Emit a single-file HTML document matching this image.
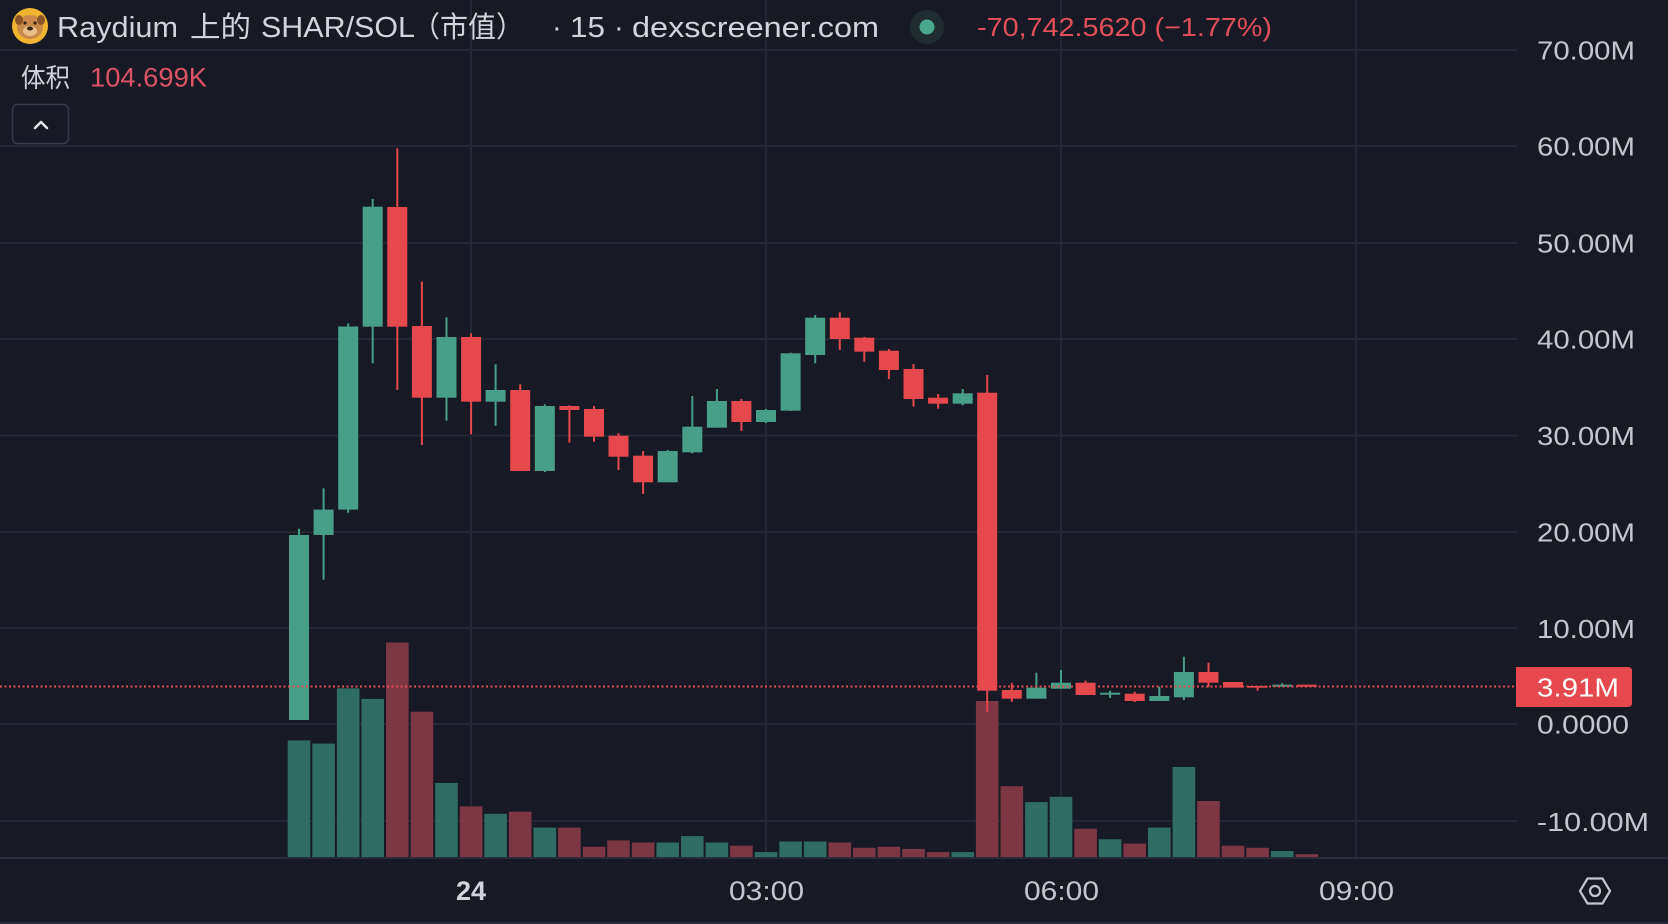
<!DOCTYPE html>
<html>
<head>
<meta charset="utf-8">
<style>
  html,body{margin:0;padding:0;background:#171a25;}
  body{width:1668px;height:924px;overflow:hidden;}
  svg{display:block;}
  text{font-family:"Liberation Sans","Noto Sans CJK SC",sans-serif;}
</style>
</head>
<body>
<svg width="1668" height="924" viewBox="0 0 1668 924" xmlns="http://www.w3.org/2000/svg">
  <rect x="0" y="0" width="1668" height="924" fill="#171a25"/>

  <!-- horizontal grid -->
  <g stroke="#242734" stroke-width="2">
    <line x1="0" y1="50" x2="1517" y2="50"/>
    <line x1="0" y1="146" x2="1517" y2="146"/>
    <line x1="0" y1="243" x2="1517" y2="243"/>
    <line x1="0" y1="339" x2="1517" y2="339"/>
    <line x1="0" y1="435.5" x2="1517" y2="435.5"/>
    <line x1="0" y1="532" x2="1517" y2="532"/>
    <line x1="0" y1="628" x2="1517" y2="628"/>
    <line x1="0" y1="724" x2="1517" y2="724"/>
    <line x1="0" y1="821" x2="1517" y2="821"/>
  </g>
  <!-- vertical grid -->
  <g stroke="#242734" stroke-width="2">
    <line x1="471" y1="0" x2="471" y2="858"/>
    <line x1="766" y1="0" x2="766" y2="858"/>
    <line x1="1061" y1="0" x2="1061" y2="858"/>
    <line x1="1356" y1="0" x2="1356" y2="858"/>
  </g>

  <!-- volume -->
  <g>
    <rect x="287.7" y="740.4" width="22.6" height="116.6" fill="#2f6c61"/>
    <rect x="312.3" y="743.6" width="22.6" height="113.4" fill="#2f6c61"/>
    <rect x="336.9" y="688.3" width="22.6" height="168.7" fill="#2f6c61"/>
    <rect x="361.4" y="698.9" width="22.6" height="158.1" fill="#2f6c61"/>
    <rect x="386.0" y="642.5" width="22.6" height="214.5" fill="#7d3744"/>
    <rect x="410.6" y="711.7" width="22.6" height="145.3" fill="#7d3744"/>
    <rect x="435.2" y="783" width="22.6" height="74" fill="#2f6c61"/>
    <rect x="459.8" y="806.4" width="22.6" height="50.6" fill="#7d3744"/>
    <rect x="484.3" y="813.8" width="22.6" height="43.2" fill="#2f6c61"/>
    <rect x="508.9" y="811.7" width="22.6" height="45.3" fill="#7d3744"/>
    <rect x="533.5" y="827.6" width="22.6" height="29.4" fill="#2f6c61"/>
    <rect x="558.1" y="827.6" width="22.6" height="29.4" fill="#7d3744"/>
    <rect x="582.7" y="846.8" width="22.6" height="10.2" fill="#7d3744"/>
    <rect x="607.2" y="840.4" width="22.6" height="16.6" fill="#7d3744"/>
    <rect x="631.8" y="842.5" width="22.6" height="14.5" fill="#7d3744"/>
    <rect x="656.4" y="842.5" width="22.6" height="14.5" fill="#2f6c61"/>
    <rect x="681.0" y="836.1" width="22.6" height="20.9" fill="#2f6c61"/>
    <rect x="705.6" y="842.5" width="22.6" height="14.5" fill="#2f6c61"/>
    <rect x="730.1" y="845.7" width="22.6" height="11.3" fill="#7d3744"/>
    <rect x="754.7" y="852.1" width="22.6" height="4.9" fill="#2f6c61"/>
    <rect x="779.3" y="841.5" width="22.6" height="15.5" fill="#2f6c61"/>
    <rect x="803.9" y="841.5" width="22.6" height="15.5" fill="#2f6c61"/>
    <rect x="828.5" y="842.5" width="22.6" height="14.5" fill="#7d3744"/>
    <rect x="853.0" y="847.8" width="22.6" height="9.2" fill="#7d3744"/>
    <rect x="877.6" y="846.8" width="22.6" height="10.2" fill="#7d3744"/>
    <rect x="902.2" y="848.9" width="22.6" height="8.1" fill="#7d3744"/>
    <rect x="926.8" y="852.1" width="22.6" height="4.9" fill="#7d3744"/>
    <rect x="951.4" y="852.1" width="22.6" height="4.9" fill="#2f6c61"/>
    <rect x="975.9" y="701" width="22.6" height="156" fill="#7d3744"/>
    <rect x="1000.5" y="786.2" width="22.6" height="70.8" fill="#7d3744"/>
    <rect x="1025.1" y="802.1" width="22.6" height="54.9" fill="#2f6c61"/>
    <rect x="1049.7" y="796.8" width="22.6" height="60.2" fill="#2f6c61"/>
    <rect x="1074.3" y="828.7" width="22.6" height="28.3" fill="#7d3744"/>
    <rect x="1098.8" y="839.3" width="22.6" height="17.7" fill="#2f6c61"/>
    <rect x="1123.4" y="843.6" width="22.6" height="13.4" fill="#7d3744"/>
    <rect x="1148.0" y="827.6" width="22.6" height="29.4" fill="#2f6c61"/>
    <rect x="1172.6" y="767" width="22.6" height="90" fill="#2f6c61"/>
    <rect x="1197.2" y="801" width="22.6" height="56" fill="#7d3744"/>
    <rect x="1221.7" y="845.7" width="22.6" height="11.3" fill="#7d3744"/>
    <rect x="1246.3" y="847.8" width="22.6" height="9.2" fill="#7d3744"/>
    <rect x="1270.9" y="851" width="22.6" height="6" fill="#2f6c61"/>
    <rect x="1295.5" y="854.2" width="22.6" height="2.8" fill="#7d3744"/>
  </g>

  <!-- candles green -->
  <g fill="#489f87">
    <rect x="298" y="528.7" width="2" height="191.3"/><rect x="289" y="535" width="20" height="185"/>
    <rect x="322.6" y="488.3" width="2" height="91.5"/><rect x="313.6" y="509.6" width="20" height="25.4"/>
    <rect x="347.2" y="323.4" width="2" height="189.3"/><rect x="338.2" y="326.5" width="20" height="183.1"/>
    <rect x="371.7" y="199" width="2" height="164.3"/><rect x="362.7" y="206.7" width="20" height="120"/>
    <rect x="445.5" y="317.3" width="2" height="103.4"/><rect x="436.5" y="337" width="20" height="60.7"/>
    <rect x="494.6" y="364.3" width="2" height="61.4"/><rect x="485.6" y="390" width="20" height="11.7"/>
    <rect x="543.8" y="404.3" width="2" height="67.7"/><rect x="534.8" y="406" width="20" height="65"/>
    <rect x="666.7" y="450" width="2" height="32.3"/><rect x="657.7" y="451" width="20" height="31.3"/>
    <rect x="691.3" y="396" width="2" height="57.3"/><rect x="682.3" y="426.7" width="20" height="25.6"/>
    <rect x="715.9" y="389" width="2" height="38.7"/><rect x="706.9" y="401" width="20" height="26.7"/>
    <rect x="765" y="409" width="2" height="14"/><rect x="756" y="410" width="20" height="12"/>
    <rect x="789.6" y="352.7" width="2" height="58.3"/><rect x="780.6" y="353.3" width="20" height="57.4"/>
    <rect x="814.2" y="315" width="2" height="48.3"/><rect x="805.2" y="317.7" width="20" height="37.3"/>
    <rect x="961.7" y="389" width="2" height="16.3"/><rect x="952.7" y="393.3" width="20" height="10.4"/>
    <rect x="1035.4" y="672.7" width="2" height="26"/><rect x="1026.4" y="687.7" width="20" height="11"/>
    <rect x="1060" y="670" width="2" height="18.7"/><rect x="1051" y="682.7" width="20" height="6"/>
    <rect x="1109.1" y="690.7" width="2" height="7.3"/><rect x="1100.1" y="692.7" width="20" height="2"/>
    <rect x="1158.3" y="686.7" width="2" height="14.3"/><rect x="1149.3" y="696" width="20" height="5"/>
    <rect x="1182.9" y="656.7" width="2" height="43.3"/><rect x="1173.9" y="672" width="20" height="25.3"/>
    <rect x="1281.2" y="683.3" width="2" height="3.4"/><rect x="1272.2" y="684.7" width="20" height="2"/>
  </g>
  <!-- candles red -->
  <g fill="#e5484d">
    <rect x="396.3" y="148.3" width="2" height="241.7"/><rect x="387.3" y="207" width="20" height="119.7"/>
    <rect x="420.9" y="281.7" width="2" height="163.3"/><rect x="411.9" y="326" width="20" height="71.7"/>
    <rect x="470.1" y="333.3" width="2" height="101"/><rect x="461.1" y="337" width="20" height="64.7"/>
    <rect x="519.2" y="384.3" width="2" height="86.7"/><rect x="510.2" y="390" width="20" height="81"/>
    <rect x="568.4" y="405.3" width="2" height="37.4"/><rect x="559.4" y="406" width="20" height="4"/>
    <rect x="593" y="406" width="2" height="35.7"/><rect x="584" y="409" width="20" height="27.7"/>
    <rect x="617.5" y="433.3" width="2" height="36.7"/><rect x="608.5" y="435.7" width="20" height="21"/>
    <rect x="642.1" y="451" width="2" height="43"/><rect x="633.1" y="455.7" width="20" height="26.6"/>
    <rect x="740.4" y="399" width="2" height="32"/><rect x="731.4" y="401" width="20" height="21"/>
    <rect x="838.8" y="312.3" width="2" height="37.7"/><rect x="829.8" y="317.7" width="20" height="21.3"/>
    <rect x="863.3" y="337" width="2" height="24.7"/><rect x="854.3" y="337.7" width="20" height="14"/>
    <rect x="887.9" y="349" width="2" height="30"/><rect x="878.9" y="350.7" width="20" height="19.3"/>
    <rect x="912.5" y="364" width="2" height="42.7"/><rect x="903.5" y="369" width="20" height="30"/>
    <rect x="937.1" y="394" width="2" height="14.7"/><rect x="928.1" y="397.7" width="20" height="6"/>
    <rect x="986.2" y="375" width="2" height="336.7"/><rect x="977.2" y="392.7" width="20" height="298"/>
    <rect x="1010.8" y="682.7" width="2" height="19"/><rect x="1001.8" y="690" width="20" height="8.7"/>
    <rect x="1084.6" y="680.7" width="2" height="14.3"/><rect x="1075.6" y="682.7" width="20" height="12.3"/>
    <rect x="1133.7" y="691.7" width="2" height="10.3"/><rect x="1124.7" y="693.7" width="20" height="7.3"/>
    <rect x="1207.5" y="662.7" width="2" height="24.6"/><rect x="1198.5" y="672" width="20" height="10.7"/>
    <rect x="1223" y="682" width="20" height="5.7"/>
    <rect x="1256.6" y="686" width="2" height="4.7"/><rect x="1247.6" y="686" width="20" height="1.7"/>
    <rect x="1296.8" y="684.7" width="20" height="2"/>
  </g>

  <!-- last price dotted line -->
  <line x1="0" y1="686.5" x2="1517" y2="686.5" stroke="#e5484d" stroke-width="2" stroke-dasharray="2 2.5"/>

  <!-- time axis separator -->
  <line x1="0" y1="858" x2="1668" y2="858" stroke="#2a2d39" stroke-width="2"/>
  <line x1="0" y1="923" x2="1668" y2="923" stroke="#2a2d39" stroke-width="2"/>

  <!-- price axis labels -->
  <g fill="#c3c6ce" font-size="25.5">
    <text x="1537" y="59.5" textLength="98" lengthAdjust="spacingAndGlyphs">70.00M</text>
    <text x="1537" y="155.5" textLength="98" lengthAdjust="spacingAndGlyphs">60.00M</text>
    <text x="1537" y="252.5" textLength="98" lengthAdjust="spacingAndGlyphs">50.00M</text>
    <text x="1537" y="348.5" textLength="98" lengthAdjust="spacingAndGlyphs">40.00M</text>
    <text x="1537" y="445" textLength="98" lengthAdjust="spacingAndGlyphs">30.00M</text>
    <text x="1537" y="541.5" textLength="98" lengthAdjust="spacingAndGlyphs">20.00M</text>
    <text x="1537" y="638" textLength="98" lengthAdjust="spacingAndGlyphs">10.00M</text>
    <text x="1537" y="733.5" textLength="92" lengthAdjust="spacingAndGlyphs">0.0000</text>
    <text x="1537" y="831" textLength="112" lengthAdjust="spacingAndGlyphs">-10.00M</text>
  </g>

  <!-- last price label -->
  <path d="M1516 667 H1628 Q1632 667 1632 671 V703 Q1632 707 1628 707 H1516 Z" fill="#e5484d"/>
  <text x="1537" y="696.5" fill="#ffffff" font-size="26" textLength="82" lengthAdjust="spacingAndGlyphs">3.91M</text>

  <!-- time axis labels -->
  <text x="471" y="900" fill="#d1d4dc" font-size="27" font-weight="bold" text-anchor="middle">24</text>
  <text x="766.5" y="900" fill="#c3c6ce" font-size="27" text-anchor="middle" textLength="75" lengthAdjust="spacingAndGlyphs">03:00</text>
  <text x="1061.5" y="900" fill="#c3c6ce" font-size="27" text-anchor="middle" textLength="75" lengthAdjust="spacingAndGlyphs">06:00</text>
  <text x="1356.5" y="900" fill="#c3c6ce" font-size="27" text-anchor="middle" textLength="75" lengthAdjust="spacingAndGlyphs">09:00</text>

  <!-- settings icon -->
  <polygon points="1580,891 1587.5,878.5 1602.5,878.5 1610,891 1602.5,903.5 1587.5,903.5" fill="none" stroke="#c3c6ce" stroke-width="2.2" stroke-linejoin="round"/>
  <circle cx="1595" cy="891" r="5" fill="none" stroke="#c3c6ce" stroke-width="2.2"/>

  <!-- header icon -->
  <circle cx="30" cy="26" r="18" fill="#f1b431"/>
  <ellipse cx="30" cy="27" rx="13" ry="12" fill="#c9894a"/>
  <ellipse cx="19" cy="20" rx="4" ry="5" fill="#8a5528"/>
  <ellipse cx="41" cy="20" rx="4" ry="5" fill="#8a5528"/>
  <ellipse cx="30" cy="31" rx="7" ry="5" fill="#e9c08a"/>
  <ellipse cx="30" cy="28.5" rx="3" ry="2" fill="#3a2414"/>
  <circle cx="25" cy="23" r="1.6" fill="#3a2414"/>
  <circle cx="35" cy="23" r="1.6" fill="#3a2414"/>

  <!-- title -->
  <g fill="#d1d4dc" font-size="29">
    <text x="57" y="37" textLength="121" lengthAdjust="spacingAndGlyphs">Raydium</text>
    <text x="190" y="37" textLength="61" lengthAdjust="spacingAndGlyphs">上的</text>
    <text x="261" y="37" textLength="154" lengthAdjust="spacingAndGlyphs">SHAR/SOL</text>
    <text x="412" y="37" textLength="112" lengthAdjust="spacingAndGlyphs">（市值）</text>
    <text x="552" y="37">·</text>
    <text x="570" y="37" textLength="35" lengthAdjust="spacingAndGlyphs">15</text>
    <text x="614" y="37">·</text>
    <text x="632" y="37" textLength="247" lengthAdjust="spacingAndGlyphs">dexscreener.com</text>
  </g>
  <circle cx="927" cy="27" r="17" fill="#212c31"/>
  <circle cx="927" cy="27" r="7.5" fill="#4aa88c"/>
  <text x="977" y="36" fill="#e04f5a" font-size="26" textLength="295" lengthAdjust="spacingAndGlyphs">-70,742.5620 (−1.77%)</text>

  <!-- second row -->
  <text x="21" y="87" fill="#d1d4dc" font-size="26" textLength="49" lengthAdjust="spacingAndGlyphs">体积</text>
  <text x="90" y="86.5" fill="#dc5366" font-size="26.5" textLength="117" lengthAdjust="spacingAndGlyphs">104.699K</text>

  <!-- collapse button -->
  <rect x="12.5" y="104.5" width="56" height="39" rx="5" fill="none" stroke="#363a46" stroke-width="1.5"/>
  <polyline points="35,128 41,122 47,128" fill="none" stroke="#e0e3ea" stroke-width="2.5" stroke-linecap="round" stroke-linejoin="round"/>
</svg>
</body>
</html>
